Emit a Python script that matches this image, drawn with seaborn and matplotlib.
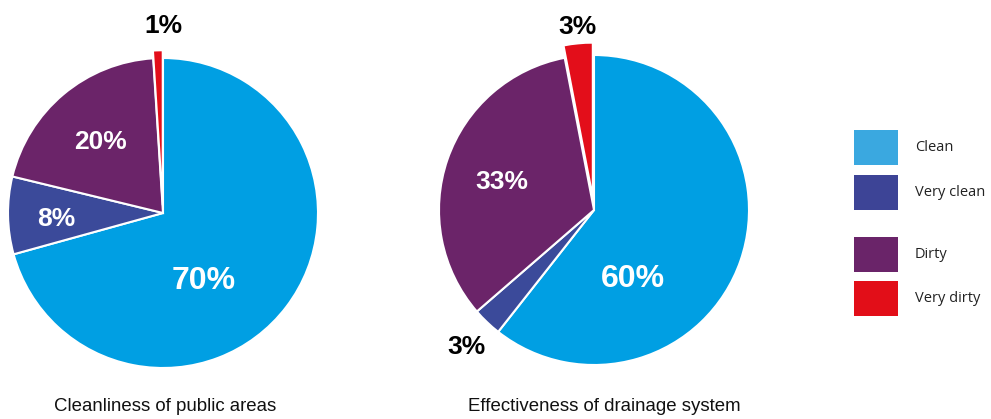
import numpy as np
import matplotlib
matplotlib.use("Agg")
import matplotlib.pyplot as plt
import seaborn as sns
from matplotlib.patches import Rectangle

#data
categories = ["Clean", "Very clean", "Dirty", "Very dirty"]
public_areas = [70, 8, 20, 1]
drainage = [60, 3, 33, 3]
titles = ["Cleanliness of public areas", "Effectiveness of drainage system"]

pie_colors = ["#009fe3", "#3b4a9a", "#6b2469", "#e30e1a"]
legend_colors = ["#3aa8e0", "#3d4496", "#6a2469", "#e20e18"]

sns.set_theme(style="white")
plt.rcParams['font.family'] = ['Liberation Sans', 'DejaVu Sans']

W, H = 991, 419
fig = plt.figure(figsize=(W / 100, H / 100), dpi=100)

R = 155.0   # pie radius in px
half = 200.0  # half axes size in px

def pie_axes(cx, cy):
    ax = fig.add_axes([(cx - half) / W, (H - cy - half) / H, 2 * half / W, 2 * half / H])
    ax.axis("off")
    return ax

# per pie: explode, label radius, label angle override (None = wedge middle), label colour
settings = [
    dict(center=(163, 213), explode=[0, 0, 0, 0.05], title_dx=2,
         lab_r=[0.49, 0.69, 0.63, 1.23], lab_ang=[-58, None, None, 90],
         lab_col=["white", "white", "white", "black"], lab_fs=[23, 19, 19, 19]),
    dict(center=(594, 210), explode=[0, 0, 0, 0.08], title_dx=10,
         lab_r=[0.49, 1.19, 0.63, 1.21], lab_ang=[-59, None, None, 95],
         lab_col=["white", "black", "white", "black"], lab_fs=[23, 19, 19, 19]),
]

for vals, title, st in zip([public_areas, drainage], titles, settings):
    cx, cy = st["center"]
    ax = pie_axes(cx, cy)
    wedges, _ = ax.pie(vals, colors=pie_colors, startangle=90, counterclock=False,
                       explode=st["explode"], radius=1.0,
                       wedgeprops=dict(edgecolor="white", linewidth=1.5))
    lim = half / R
    ax.set_xlim(-lim, lim)
    ax.set_ylim(-lim, lim)
    ax.set_aspect("equal")
    for i, (w, v) in enumerate(zip(wedges, vals)):
        ang = st["lab_ang"][i]
        if ang is None:
            ang = (w.theta1 + w.theta2) / 2
        r = st["lab_r"][i]
        x = r * np.cos(np.radians(ang))
        y = r * np.sin(np.radians(ang)) - 4 / R
        ax.text(x, y, f"{v}%", ha="center", va="center", color=st["lab_col"][i],
                fontsize=st["lab_fs"][i], fontweight="bold", clip_on=False)
    ax.text(st["title_dx"] / R, -(406 - cy) / R, title, ha="center", va="center",
            fontsize=13.4, color="#111111", clip_on=False)

#legend
lax = fig.add_axes([0, 0, 1, 1])
lax.set_xlim(0, W)
lax.set_ylim(H, 0)
lax.axis("off")
tops = [130, 175, 237, 281]
for name, col, top in zip(categories, legend_colors, tops):
    lax.add_patch(Rectangle((854, top), 44, 35, facecolor=col, edgecolor="none"))
    lax.text(915, top + 17, name, va="center", ha="left", fontsize=10.5,
             color="#222222", family=["Open Sans", "DejaVu Sans"])

plt.savefig("out.png", dpi=100)
